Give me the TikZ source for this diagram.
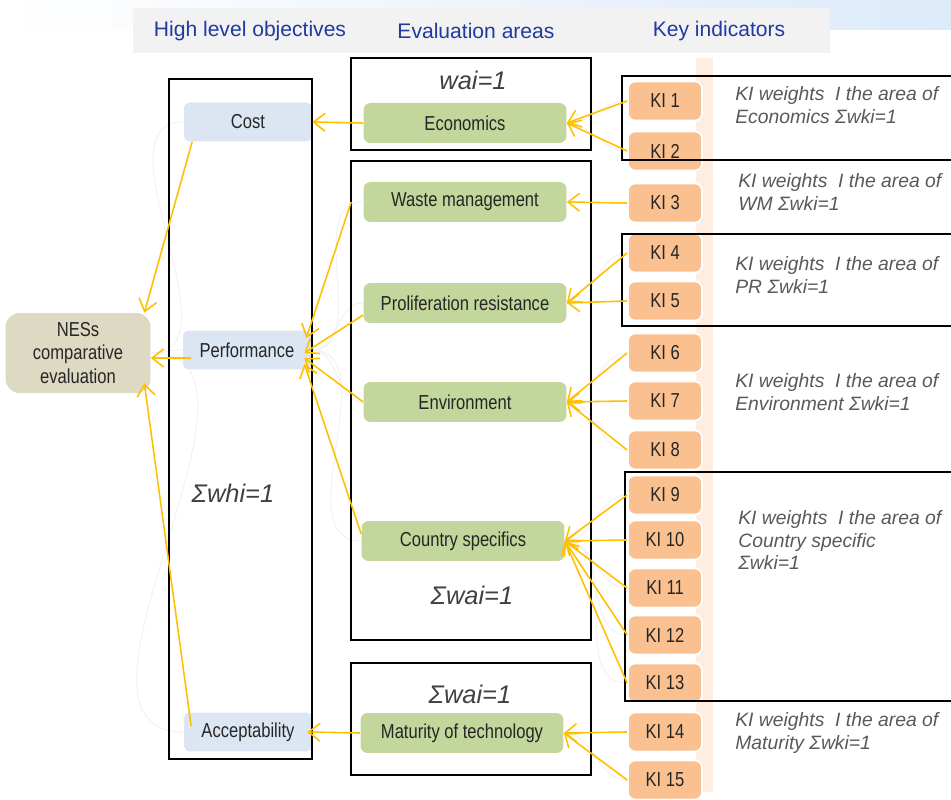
\documentclass[tikz,border=0pt]{standalone}
\usepackage{fontspec}
\setmainfont{Liberation Sans}
\newfontfamily\narrowfont[FakeStretch=0.82]{Liberation Sans}
\usetikzlibrary{arrows.meta,backgrounds}

\definecolor{headblue}{RGB}{32,58,160}
\definecolor{headgray}{RGB}{242,242,242}
\definecolor{skyblue}{RGB}{220,234,250}
\definecolor{objblue}{RGB}{220,230,242}
\definecolor{areagreen}{RGB}{195,214,155}
\definecolor{kiorange}{RGB}{250,192,144}
\definecolor{nesbeige}{RGB}{221,217,195}
\definecolor{linkyellow}{RGB}{255,192,0}
\definecolor{boxtext}{RGB}{38,38,38}
\definecolor{notegray}{RGB}{89,89,89}
\definecolor{weightgray}{RGB}{64,64,64}
\definecolor{bandpeach}{RGB}{254,238,226}

\newcommand{\boxfont}{\narrowfont\fontsize{11.5}{13.3}\selectfont}

\begin{document}
\begin{tikzpicture}[x=0.02cm, y=-0.02cm,
        every node/.style={inner sep=0pt},
        heading/.style={font=\fontsize{12}{14}\selectfont, text=headblue},
        objective/.style={fill=objblue, rounded corners=3pt, minimum width=2.56cm, minimum height=0.78cm, font=\boxfont, text=boxtext},
        area/.style={fill=areagreen, rounded corners=4pt, minimum width=4.06cm, minimum height=0.8cm, font=\boxfont, text=boxtext},
        indicator/.style={fill=kiorange, draw=white, line width=1pt, rounded corners=4pt, minimum width=1.48cm, minimum height=0.78cm, font=\boxfont, text=boxtext},
        frame/.style={draw=black, line width=1.1pt},
        weight/.style={font=\itshape\fontsize{14.5}{17}\selectfont, text=weightgray},
        note/.style={anchor=west, align=left, font=\itshape\fontsize{11}{13}\selectfont, text=notegray},
        link/.style={draw=linkyellow, line width=0.9pt, -{Straight Barb[length=2.3mm, width=3.6mm]}},
        ghost/.style={draw=black!5, line width=0.6pt}]
    \useasboundingbox (0,0) rectangle (951,800);

    % heading strip
    \shade[left color=white, right color=skyblue] (0,0) rectangle (951,30);
    \fill[headgray] (133,8) rectangle (830,53);
    \node[heading] (hobj) at (250,31) {High level objectives};
    \node[heading] (harea) at (476,31) {Evaluation areas};
    \node[heading] (hki) at (719,31) {Key indicators};

    % top of the tree
    \node[fill=nesbeige, rounded corners=8pt, minimum width=2.9cm, minimum height=1.6cm, align=center, font=\boxfont, text=boxtext] (nes) at (78,353) {NESs\\comparative\\evaluation};

    \node[objective] (cost) at (248,122) {Cost};
    \node[objective] (perf) at (247,350) {Performance};
    \node[objective] (accept) at (248,732) {Acceptability};

    \node[area] (econ) at (465,123) {Economics};
    \node[area] (waste) at (465,202) {Waste management};
    \node[area] (prolif) at (465,303) {Proliferation resistance};
    \node[area] (env) at (465,402) {Environment};
    \node[area] (country) at (463,541) {Country specifics};
    \node[area] (matur) at (462,733) {Maturity of technology};

    \foreach \i/\y in {1/101, 2/151, 3/203, 4/253, 5/301, 6/353, 7/401, 8/450,
                       9/495, 10/540, 11/588, 12/635, 13/683, 14/732, 15/780}
        \node[indicator] (ki\i) at (665,\y) {KI \i};

    % faint hierarchy lines and the band behind the indicators
    \begin{scope}[on background layer]
        \fill[bandpeach] (696,58) rectangle (713,792);
        \foreach \o in {cost, perf, accept}
            \draw[ghost] (nes.east) to[out=0, in=180] (\o.west);
        \draw[ghost] (cost.east) to[out=0, in=180] (econ.west);
        \foreach \a in {waste, prolif, env, country}
            \draw[ghost] (perf.east) to[out=0, in=180] (\a.west);
        \draw[ghost] (accept.east) to[out=0, in=180] (matur.west);
        \foreach \i/\a in {1/econ, 2/econ, 3/waste, 4/prolif, 5/prolif, 6/env, 7/env, 8/env,
                           9/country, 10/country, 11/country, 12/country, 13/country, 14/matur, 15/matur}
            \draw[ghost] (\a.east) to[out=0, in=180] (ki\i.west);
    \end{scope}

    % weight frames
    \draw[frame] (169,79) rectangle (312,759);
    \draw[frame] (351,58) rectangle (591,150);
    \draw[frame] (351,161) rectangle (591,640);
    \draw[frame] (351,663) rectangle (591,775);
    \draw[frame] (622,76) rectangle (955,160);
    \draw[frame] (622,234) rectangle (955,326);
    \draw[frame] (625,472) rectangle (955,701);

    \node[weight] (whi) at (233,493) {Σwhi=1};
    \node[weight] (waiecon) at (473,80) {wai=1};
    \node[weight] (waimid) at (472,595) {Σwai=1};
    \node[weight] (waimat) at (470,694) {Σwai=1};

    \node[note] (nEcon) at (735,105) {KI weights~ I the area of\\Economics Σwki=1};
    \node[note] (nWaste) at (738,192) {KI weights~ I the area of\\WM Σwki=1};
    \node[note] (nProlif) at (735,275) {KI weights~ I the area of\\PR Σwki=1};
    \node[note] (nEnv) at (735,392) {KI weights~ I the area of\\Environment Σwki=1};
    \node[note] (nCountry) at (738,540) {KI weights~ I the area of\\Country specific\\Σwki=1};
    \node[note] (nMatur) at (735,733) {KI weights~ I the area of\\Maturity Σwki=1};

    % indicators feed the areas
    \foreach \i in {1,2} \draw[link] (ki\i.west) -- (econ.east);
    \draw[link] (ki3.west) -- (waste.east);
    \foreach \i in {4,5} \draw[link] (ki\i.west) -- (prolif.east);
    \foreach \i in {6,7,8} \draw[link] (ki\i.west) -- (env.east);
    \foreach \i in {9,...,13} \draw[link] (ki\i.west) -- (country.east);
    \foreach \i in {14,15} \draw[link] (ki\i.west) -- (matur.east);

    % areas feed the objectives
    \draw[link] (econ.west) -- (cost.east);
    \draw[link] ([xshift=-0.24cm]waste.west) -- ([shift={(-0.1cm,0.24cm)}]perf.east);
    \draw[link] ([yshift=-0.24cm]prolif.west) -- ([shift={(-0.14cm,-0.06cm)}]perf.east);
    \draw[link] (env.west) -- ([shift={(-0.14cm,-0.16cm)}]perf.east);
    \draw[link] ([yshift=0.14cm]country.west) -- ([shift={(-0.14cm,-0.28cm)}]perf.east);
    \draw[link] (matur.west) -- ([xshift=-0.1cm]accept.east);

    % objectives feed the evaluation
    \draw[link] ([xshift=0.17cm]cost.south west) -- ([xshift=-0.13cm]nes.north east);
    \draw[link] ([shift={(0.17cm,-0.16cm)}]perf.west) -- ([yshift=-0.1cm]nes.east);
    \draw[link] ([shift={(0.15cm,-0.28cm)}]accept.north west) -- ([shift={(-0.13cm,0.2cm)}]nes.south east);
\end{tikzpicture}
\end{document}
